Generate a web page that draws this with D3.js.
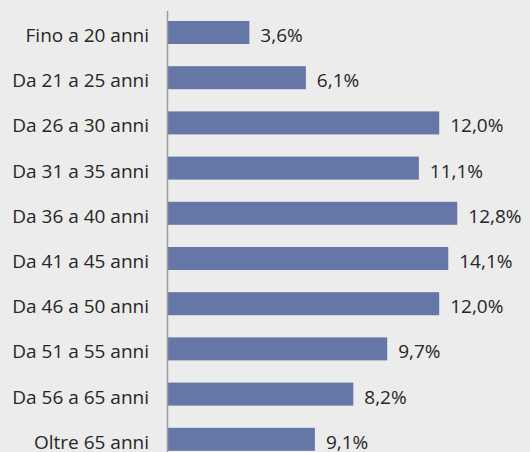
<!DOCTYPE html>
<html lang="it">
<head>
<meta charset="UTF-8">
<title>Età</title>
<script src="https://d3js.org/d3.v7.min.js"></script>
<style>
    body{ margin:0; background:#ebeceb; }
    svg text{ font-family:"Open Sans"; font-size:19px; fill:#262626; }
</style>
</head>
<body>
<svg width="530" height="452"></svg>
<script>
    // data
    let categories = ["Fino a 20 anni","Da 21 a 25 anni","Da 26 a 30 anni","Da 31 a 35 anni",
        "Da 36 a 40 anni","Da 41 a 45 anni","Da 46 a 50 anni","Da 51 a 55 anni",
        "Da 56 a 65 anni","Oltre 65 anni"];
    // bar lengths as drawn (two bars in the original do not match their label)
    let barValues = [3.6, 6.1, 12.0, 11.1, 12.8, 12.4, 12.0, 9.7, 8.2, 6.5];
    let valueLabels = ["3,6%","6,1%","12,0%","11,1%","12,8%","14,1%","12,0%","9,7%","8,2%","9,1%"];

    let svg = d3.select('svg');
    let x0 = 168;

    let xScale = d3.scaleLinear().domain([0, 10]).range([x0, x0 + 226]);
    let yScale = d3.scaleBand().domain(categories).range([21, 450.8]).paddingInner(0.491).paddingOuter(0);

    let rows = categories.map(function(c, i){
        return {cat: c, v: barValues[i], label: valueLabels[i]};
    });

    // bars
    svg.append('g').selectAll('rect').data(rows).join('rect')
        .attr('x', xScale(0))
        .attr('y', function(d){ return yScale(d.cat); })
        .attr('width', function(d){ return xScale(d.v) - xScale(0); })
        .attr('height', yScale.bandwidth())
        .attr('fill', '#6577a6');

    // value labels
    svg.append('g').selectAll('text').data(rows).join('text')
        .attr('x', function(d){ return xScale(d.v) + 11; })
        .attr('y', function(d){ return yScale(d.cat) + yScale.bandwidth()/2; })
        .attr('dy', '0.5em')
        .text(function(d){ return d.label; });

    // category axis
    let yAxis = svg.append('g').attr('transform', 'translate(' + 149 + ',0)')
        .call(d3.axisLeft(yScale).tickSize(0).tickPadding(0));
    yAxis.attr('font-family', null).attr('font-size', null);
    yAxis.select('.domain').remove();
    yAxis.selectAll('text').attr('dy', '0.5em');

    // vertical axis line
    svg.append('line')
        .attr('x1', 167.5).attr('x2', 167.5)
        .attr('y1', 11).attr('y2', 452)
        .attr('stroke', '#9a9a9a').attr('stroke-width', 1.5);
</script>
</body>
</html>
